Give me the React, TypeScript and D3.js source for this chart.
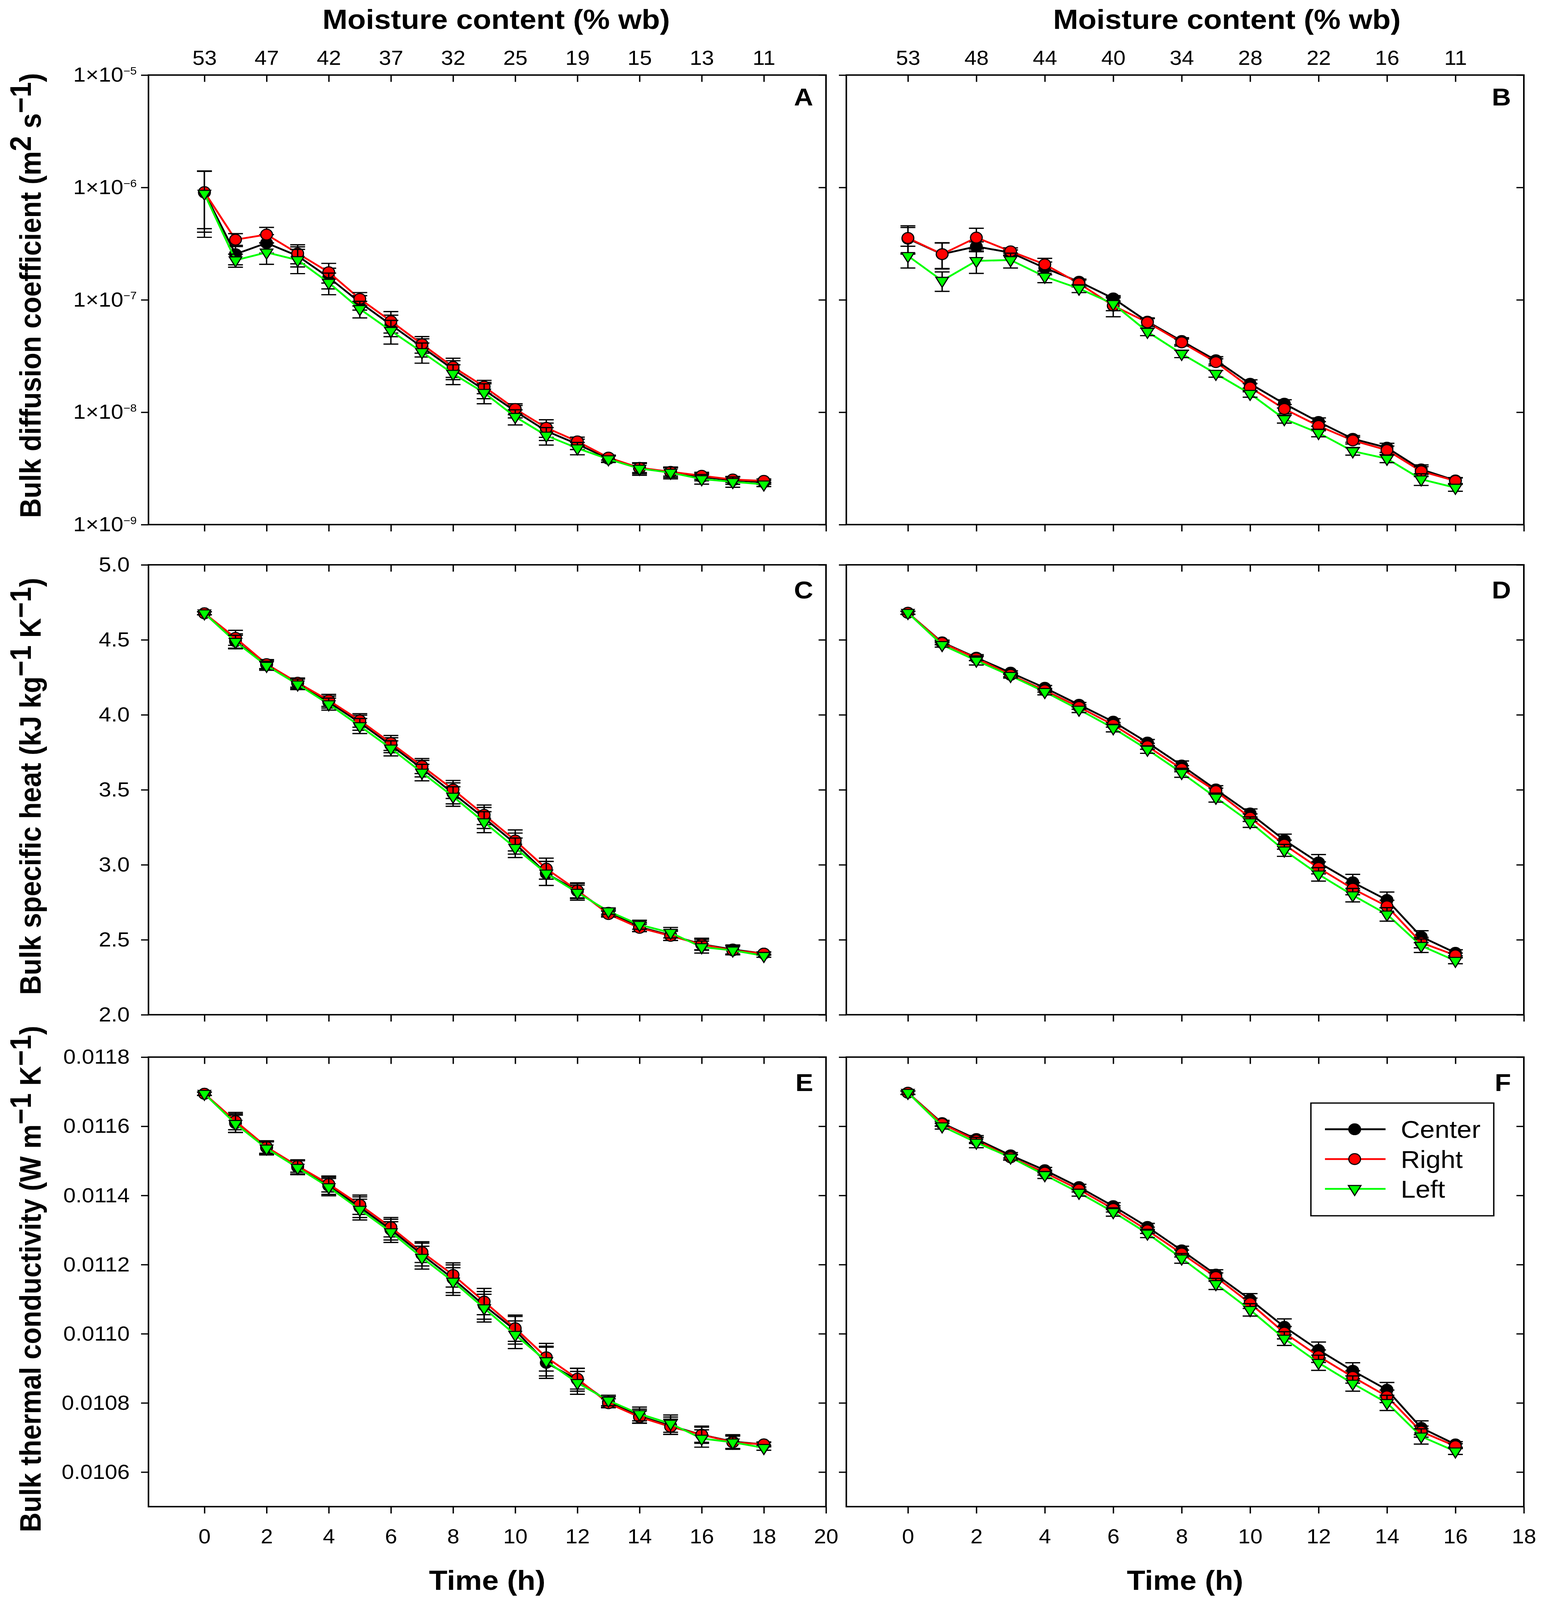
import React, { useRef, useEffect } from "react";
import * as d3 from "d3";

const W = 3949;
const H = 4456;
const FONT = "'Liberation Sans', Arial, Helvetica, sans-serif";

// time axes
const hoursL = [0, 1, 2, 3, 4, 5, 6, 7, 8, 9, 10, 11, 12, 13, 14, 15, 16, 17, 18];
const hoursR = [0, 1, 2, 3, 4, 5, 6, 7, 8, 9, 10, 11, 12, 13, 14, 15, 16];
const timeTicksL = [0, 2, 4, 6, 8, 10, 12, 14, 16, 18, 20];
const timeTicksR = [0, 2, 4, 6, 8, 10, 12, 14, 16, 18];

// moisture content (top axis)
const mcTicksL = [0, 2, 4, 6, 8, 10, 12, 14, 16, 18];
const mcLabelsL = ["53", "47", "42", "37", "32", "25", "19", "15", "13", "11"];
const mcTicksR = [0, 2, 4, 6, 8, 10, 12, 14, 16];
const mcLabelsR = ["53", "48", "44", "40", "34", "28", "22", "16", "11"];

// y ticks
const diffTicks = [1e-9, 1e-8, 1e-7, 1e-6, 1e-5];
const heatTicks = [2.0, 2.5, 3.0, 3.5, 4.0, 4.5, 5.0];
const condTicks = [0.0106, 0.0108, 0.011, 0.0112, 0.0114, 0.0116, 0.0118];

// A - bulk diffusion coefficient, left column
const diffCenterA = [9.0e-7, 2.55e-7, 3.2e-7, 2.46e-7, 1.58e-7, 9.5e-8, 6.0e-8, 3.8e-8, 2.41e-8, 1.58e-8, 1.02e-8, 6.8e-9, 5.2e-9, 3.85e-9, 3.18e-9, 2.92e-9, 2.65e-9, 2.48e-9, 2.38e-9];
const diffRightA = [9.1e-7, 3.43e-7, 3.81e-7, 2.59e-7, 1.76e-7, 1.02e-7, 6.46e-8, 4.03e-8, 2.53e-8, 1.69e-8, 1.07e-8, 7.27e-9, 5.5e-9, 3.95e-9, 3.2e-9, 2.95e-9, 2.72e-9, 2.52e-9, 2.45e-9];
const diffLeftA = [8.8e-7, 2.25e-7, 2.64e-7, 2.26e-7, 1.42e-7, 8.3e-8, 5.3e-8, 3.43e-8, 2.2e-8, 1.49e-8, 9.1e-9, 6.2e-9, 4.78e-9, 3.82e-9, 3.15e-9, 2.9e-9, 2.54e-9, 2.4e-9, 2.28e-9];
const diffCenterSdA = [5.0e-7, 5.0e-8, 6.0e-8, 5.0e-8, 3.3e-8, 1.4e-8, 1.3e-8, 7e-9, 4.6e-9, 2.6e-9, 1.3e-9, 1.2e-9, 5.5e-10, 2.5e-10, 3.5e-10, 3e-10, 2e-10, 2e-10, 1e-10];
const diffRightSdA = [4.8e-7, 4.5e-8, 6.0e-8, 5.0e-8, 3.5e-8, 1.4e-8, 1.4e-8, 6.8e-9, 4.9e-9, 2.3e-9, 1.2e-9, 1.3e-9, 5e-10, 2e-10, 3e-10, 2.5e-10, 2e-10, 1.5e-10, 1e-10];
const diffLeftSdA = [5.2e-7, 3e-8, 5.7e-8, 5.5e-8, 3.1e-8, 1.4e-8, 1.26e-8, 7e-9, 4.4e-9, 3e-9, 1.4e-9, 1.1e-9, 6e-10, 2.5e-10, 4e-10, 3.5e-10, 2.5e-10, 2.5e-10, 1e-10];

// B - bulk diffusion coefficient, right column
const diffCenterB = [3.5e-7, 2.55e-7, 2.98e-7, 2.63e-7, 1.92e-7, 1.45e-7, 1.03e-7, 6.4e-8, 4.3e-8, 2.9e-8, 1.79e-8, 1.19e-8, 8.2e-9, 5.8e-9, 4.84e-9, 3.1e-9, 2.47e-9];
const diffRightB = [3.55e-7, 2.55e-7, 3.58e-7, 2.7e-7, 2.07e-7, 1.4e-7, 8.87e-8, 6.3e-8, 4.18e-8, 2.79e-8, 1.66e-8, 1.07e-8, 7.55e-9, 5.61e-9, 4.6e-9, 2.98e-9, 2.45e-9];
const diffLeftB = [2.46e-7, 1.48e-7, 2.22e-7, 2.26e-7, 1.61e-7, 1.26e-7, 9.2e-8, 5.2e-8, 3.31e-8, 2.2e-8, 1.46e-8, 8.7e-9, 6.55e-9, 4.5e-9, 3.86e-9, 2.53e-9, 2.13e-9];
const diffCenterSdB = [9e-8, 6.5e-8, 3e-8, 1.5e-8, 2.5e-8, 8e-9, 6e-9, 5e-9, 3e-9, 2.2e-9, 1.5e-9, 1e-9, 7e-10, 4e-10, 4.5e-10, 3e-10, 1.5e-10];
const diffRightSdB = [1e-7, 6.7e-8, 7.5e-8, 2e-8, 2.7e-8, 1e-8, 1.8e-8, 5e-9, 3e-9, 2e-9, 1.4e-9, 1e-9, 7e-10, 4e-10, 4e-10, 3e-10, 1.5e-10];
const diffLeftSdB = [5.4e-8, 2.9e-8, 5e-8, 3.4e-8, 1.9e-8, 1e-8, 1.2e-8, 4e-9, 2.5e-9, 1.5e-9, 1e-9, 7e-10, 5e-10, 3.5e-10, 3e-10, 3e-10, 1.5e-10];

// C - bulk specific heat, left column
const heatCenterC = [4.677, 4.49, 4.335, 4.21, 4.085, 3.947, 3.797, 3.641, 3.476, 3.312, 3.141, 2.942, 2.825, 2.68, 2.585, 2.53, 2.47, 2.435, 2.408];
const heatRightC = [4.677, 4.513, 4.338, 4.214, 4.096, 3.962, 3.812, 3.658, 3.502, 3.333, 3.162, 2.974, 2.829, 2.671, 2.579, 2.526, 2.468, 2.429, 2.408];
const heatLeftC = [4.677, 4.487, 4.327, 4.203, 4.071, 3.925, 3.776, 3.615, 3.455, 3.284, 3.113, 2.942, 2.814, 2.69, 2.6, 2.547, 2.451, 2.429, 2.393];
const heatCenterSdC = [0.01, 0.05, 0.03, 0.035, 0.04, 0.05, 0.05, 0.055, 0.07, 0.07, 0.07, 0.08, 0.05, 0.02, 0.03, 0.035, 0.04, 0.03, 0.01];
const heatRightSdC = [0.01, 0.05, 0.03, 0.03, 0.04, 0.045, 0.05, 0.05, 0.06, 0.065, 0.07, 0.07, 0.05, 0.02, 0.025, 0.03, 0.035, 0.03, 0.01];
const heatLeftSdC = [0.01, 0.043, 0.03, 0.035, 0.04, 0.05, 0.05, 0.055, 0.065, 0.07, 0.065, 0.08, 0.05, 0.02, 0.03, 0.035, 0.04, 0.03, 0.01];

// D - bulk specific heat, right column
const heatCenterD = [4.68, 4.483, 4.381, 4.281, 4.18, 4.067, 3.954, 3.815, 3.662, 3.502, 3.342, 3.164, 3.015, 2.883, 2.765, 2.52, 2.413];
const heatRightD = [4.68, 4.479, 4.377, 4.266, 4.163, 4.052, 3.933, 3.79, 3.64, 3.491, 3.314, 3.134, 2.979, 2.84, 2.723, 2.481, 2.396];
const heatLeftD = [4.68, 4.466, 4.362, 4.26, 4.153, 4.035, 3.911, 3.768, 3.613, 3.448, 3.284, 3.096, 2.936, 2.797, 2.669, 2.46, 2.36];
const heatCenterSdD = [0.01, 0.015, 0.02, 0.012, 0.015, 0.015, 0.02, 0.02, 0.03, 0.025, 0.03, 0.04, 0.053, 0.053, 0.053, 0.04, 0.02];
const heatRightSdD = [0.01, 0.012, 0.015, 0.012, 0.012, 0.015, 0.015, 0.02, 0.02, 0.02, 0.025, 0.03, 0.04, 0.04, 0.04, 0.035, 0.015];
const heatLeftSdD = [0.01, 0.015, 0.03, 0.015, 0.02, 0.02, 0.025, 0.025, 0.03, 0.03, 0.035, 0.04, 0.045, 0.045, 0.045, 0.045, 0.02];

// E - bulk thermal conductivity, left column
const condCenterE = [0.011694, 0.011609, 0.011538, 0.011482, 0.011428, 0.011366, 0.011301, 0.011229, 0.011159, 0.011082, 0.01101, 0.010916, 0.010867, 0.010803, 0.010762, 0.010734, 0.010708, 0.010688, 0.01068];
const condRightE = [0.011694, 0.011615, 0.01154, 0.011485, 0.011433, 0.011373, 0.011308, 0.011236, 0.01117, 0.011093, 0.011016, 0.010932, 0.01087, 0.010799, 0.010759, 0.010731, 0.010708, 0.010686, 0.01068];
const condLeftE = [0.011694, 0.011607, 0.011536, 0.01148, 0.011424, 0.011359, 0.011294, 0.01122, 0.011151, 0.011074, 0.010997, 0.010921, 0.010858, 0.010807, 0.010768, 0.01074, 0.010697, 0.010686, 0.01067];
const condCenterSdE = [5e-6, 2.7e-5, 1.9e-5, 2e-5, 2.5e-5, 3e-5, 3e-5, 3.3e-5, 4e-5, 4e-5, 4e-5, 4.5e-5, 3.3e-5, 1.5e-5, 2e-5, 2.5e-5, 2.5e-5, 2e-5, 7e-6];
const condRightSdE = [5e-6, 2.5e-5, 1.8e-5, 1.8e-5, 2.3e-5, 2.8e-5, 2.8e-5, 3e-5, 3.5e-5, 3.8e-5, 3.8e-5, 4e-5, 3e-5, 1.3e-5, 1.8e-5, 2.2e-5, 2.2e-5, 1.8e-5, 6e-6];
const condLeftSdE = [5e-6, 2.5e-5, 1.9e-5, 2e-5, 2.5e-5, 3e-5, 3e-5, 3.3e-5, 4e-5, 4e-5, 4e-5, 4.3e-5, 3.3e-5, 1.5e-5, 2e-5, 2.5e-5, 2.5e-5, 2e-5, 7e-6];

// F - bulk thermal conductivity, right column
const condCenterF = [0.011697, 0.011609, 0.011563, 0.011516, 0.011473, 0.011424, 0.011369, 0.011309, 0.011241, 0.011171, 0.011099, 0.01102, 0.010953, 0.010893, 0.010838, 0.010728, 0.01068];
const condRightF = [0.011697, 0.011607, 0.011559, 0.01151, 0.011466, 0.011417, 0.011361, 0.011299, 0.011232, 0.011164, 0.011088, 0.011003, 0.010935, 0.010875, 0.010819, 0.010717, 0.010675];
const condLeftF = [0.011697, 0.0116, 0.011553, 0.01151, 0.011459, 0.011408, 0.011352, 0.01129, 0.011218, 0.011144, 0.011069, 0.010986, 0.010916, 0.010856, 0.0108, 0.010703, 0.01066];
const condCenterSdF = [5e-6, 8e-6, 1e-5, 8e-6, 8e-6, 8e-6, 1e-5, 1e-5, 1.2e-5, 1.4e-5, 1.7e-5, 2.3e-5, 2.3e-5, 2.3e-5, 2.1e-5, 2e-5, 8e-6];
const condRightSdF = [5e-6, 7e-6, 9e-6, 7e-6, 7e-6, 7e-6, 9e-6, 9e-6, 1e-5, 1.2e-5, 1.5e-5, 1.8e-5, 1.8e-5, 1.8e-5, 1.8e-5, 1.6e-5, 7e-6];
const condLeftSdF = [5e-6, 8e-6, 1.5e-5, 8e-6, 1e-5, 1e-5, 1.2e-5, 1.2e-5, 1.4e-5, 1.6e-5, 1.8e-5, 2e-5, 2.2e-5, 2.2e-5, 2.2e-5, 2.2e-5, 9e-6];

const seriesNames = ["Center", "Right", "Left"];
const seriesColors = ["#000000", "#ff0000", "#00ff00"];

type Sel = d3.Selection<any, any, any, any>;

const cols = [
  { x0: 380, x1: 2114, domain: [-1.8, 20], hours: hoursL, timeTicks: timeTicksL, mcTicks: mcTicksL, mcLabels: mcLabelsL, titleX: 1270 },
  { x0: 2166, x1: 3900, domain: [-1.8, 18], hours: hoursR, timeTicks: timeTicksR, mcTicks: mcTicksR, mcLabels: mcLabelsR, titleX: 3140 },
];
const rows = [
  { y0: 209, y1: 1461 },
  { y0: 1573, y1: 2826 },
  { y0: 2944, y1: 4196 },
];

const panels = [
  { row: 0, col: 0, letter: "A", values: [diffCenterA, diffRightA, diffLeftA], sds: [diffCenterSdA, diffRightSdA, diffLeftSdA] },
  { row: 0, col: 1, letter: "B", values: [diffCenterB, diffRightB, diffLeftB], sds: [diffCenterSdB, diffRightSdB, diffLeftSdB] },
  { row: 1, col: 0, letter: "C", values: [heatCenterC, heatRightC, heatLeftC], sds: [heatCenterSdC, heatRightSdC, heatLeftSdC] },
  { row: 1, col: 1, letter: "D", values: [heatCenterD, heatRightD, heatLeftD], sds: [heatCenterSdD, heatRightSdD, heatLeftSdD] },
  { row: 2, col: 0, letter: "E", values: [condCenterE, condRightE, condLeftE], sds: [condCenterSdE, condRightSdE, condLeftSdE] },
  { row: 2, col: 1, letter: "F", values: [condCenterF, condRightF, condLeftF], sds: [condCenterSdF, condRightSdF, condLeftSdF] },
];

function yScaleFor(row: number, y0: number, y1: number) {
  if (row === 0) return d3.scaleLog().domain([1e-9, 1e-5]).range([y1, y0]);
  if (row === 1) return d3.scaleLinear().domain([2.0, 5.0]).range([y1, y0]);
  return d3.scaleLinear().domain([0.0105, 0.0118]).range([y1, y0]);
}

function styleAxis(g: Sel, size = 56) {
  g.select(".domain").remove();
  g.selectAll(".tick line").attr("stroke", "#000").attr("stroke-width", 3.5);
  g.selectAll(".tick text").attr("font-size", size).attr("font-family", FONT).attr("fill", "#000");
}

function drawMarker(g: Sel, kind: number, cx: number, cy: number, color: string) {
  if (kind === 2) {
    g.append("path")
      .attr("d", d3.symbol().type(d3.symbolTriangle).size(450)())
      .attr("transform", `translate(${cx},${cy}) rotate(180)`)
      .attr("fill", color)
      .attr("stroke", "#000")
      .attr("stroke-width", 3);
  } else {
    g.append("circle")
      .attr("cx", cx)
      .attr("cy", cy)
      .attr("r", 15)
      .attr("fill", color)
      .attr("stroke", "#000")
      .attr("stroke-width", 3);
  }
}

function drawPanel(svg: Sel, p: (typeof panels)[number]) {
  const c = cols[p.col];
  const r = rows[p.row];
  const x = d3.scaleLinear().domain(c.domain).range([c.x0, c.x1]);
  const y: any = yScaleFor(p.row, r.y0, r.y1);
  const g = svg.append("g");
  const isLeft = p.col === 0;
  const isTop = p.row === 0;
  const isBottom = p.row === 2;

  // bottom axis (outward ticks)
  const bottom = g.append("g")
    .attr("transform", `translate(0,${r.y1})`)
    .call(d3.axisBottom(x).tickValues(c.timeTicks).tickSize(19).tickSizeOuter(0).tickPadding(43)
      .tickFormat((d: any) => (isBottom ? String(d) : "")));
  styleAxis(bottom);

  // top axis (inward ticks), moisture content labels on the top row
  const top = g.append("g")
    .attr("transform", `translate(0,${r.y0})`)
    .call(d3.axisTop(x).tickValues(c.mcTicks).tickSize(-19).tickSizeOuter(0).tickPadding(28)
      .tickFormat((_d: any, i: number) => (isTop ? c.mcLabels[i] : "")));
  styleAxis(top);

  // left axis (outward ticks)
  const tickVals = p.row === 0 ? diffTicks : p.row === 1 ? heatTicks : condTicks;
  const fmt = p.row === 1 ? d3.format(".1f") : d3.format(".4f");
  const left = g.append("g")
    .attr("transform", `translate(${c.x0},0)`)
    .call(d3.axisLeft(y).tickValues(tickVals).tickSize(19).tickSizeOuter(0).tickPadding(p.row === 0 ? 11 : 29)
      .tickFormat((d: any) => (isLeft && p.row !== 0 ? fmt(d) : "")));
  styleAxis(left, 57);
  if (isLeft && p.row === 0) {
    left.selectAll<SVGTextElement, number>(".tick text").each(function (d) {
      const t = d3.select(this);
      t.text(null);
      t.append("tspan").text("1×10");
      t.append("tspan").attr("dy", -20).attr("font-size", 30).text("−" + String(Math.round(-Math.log10(d))));
    });
  }

  // right axis (inward ticks)
  const right = g.append("g")
    .attr("transform", `translate(${c.x1},0)`)
    .call(d3.axisRight(y).tickValues(tickVals).tickSize(-19).tickSizeOuter(0).tickFormat(() => ""));
  styleAxis(right);

  // frame
  g.append("rect")
    .attr("x", c.x0).attr("y", r.y0)
    .attr("width", c.x1 - c.x0).attr("height", r.y1 - r.y0)
    .attr("fill", "none").attr("stroke", "#000").attr("stroke-width", 4);

  // series: line, error bars, symbols
  p.values.forEach((vals, si) => {
    const sd = p.sds[si];
    const color = seriesColors[si];
    const pts = vals.map((v, i) => [x(c.hours[i]), y(v)] as [number, number]);
    g.append("path")
      .attr("d", d3.line()(pts))
      .attr("fill", "none")
      .attr("stroke", color)
      .attr("stroke-width", 5)
      .attr("stroke-linejoin", "round");

    const eb = g.append("g").attr("stroke", "#000").attr("stroke-width", 3.5);
    vals.forEach((v, i) => {
      const cx = x(c.hours[i]);
      const yTop = y(v + sd[i]);
      const yBot = y(v - sd[i]);
      eb.append("line").attr("x1", cx).attr("x2", cx).attr("y1", yTop).attr("y2", yBot);
      eb.append("line").attr("x1", cx - 19).attr("x2", cx + 19).attr("y1", yTop).attr("y2", yTop);
      eb.append("line").attr("x1", cx - 19).attr("x2", cx + 19).attr("y1", yBot).attr("y2", yBot);
    });

    const mk = g.append("g");
    pts.forEach(([px, py]) => drawMarker(mk, si, px, py, color));
  });

  // panel letter
  g.append("text")
    .attr("x", c.x1 - 33)
    .attr("y", r.y0 + (p.row === 0 ? 85 : 94))
    .attr("text-anchor", "end")
    .attr("font-family", FONT)
    .attr("font-weight", "bold")
    .attr("font-size", 68)
    .text(p.letter);
}

function yTitle(svg: Sel, cy: number, parts: [string, boolean][]) {
  const t = svg.append("text")
    .attr("transform", `translate(104,${cy}) rotate(-90)`)
    .attr("text-anchor", "middle")
    .attr("font-family", FONT)
    .attr("font-weight", "bold")
    .attr("font-size", 76);
  let raised = false;
  parts.forEach(([s, sup]) => {
    const ts = t.append("tspan").text(s);
    if (sup && !raised) ts.attr("dy", -25);
    if (!sup && raised) ts.attr("dy", 25);
    raised = sup;
  });
}

const App: React.FC = () => {
  const svgRef = useRef<SVGSVGElement | null>(null);

  useEffect(() => {
    const svg = d3.select(svgRef.current);
    svg.selectAll("*").remove();

    svg.append("rect").attr("width", W).attr("height", H).attr("fill", "#fff");

    panels.forEach((p) => drawPanel(svg as any, p));

    // top titles
    cols.forEach((c) => {
      svg.append("text")
        .attr("x", c.titleX).attr("y", 81)
        .attr("text-anchor", "middle")
        .attr("font-family", FONT).attr("font-weight", "bold").attr("font-size", 77)
        .text("Moisture content (% wb)");
    });

    // bottom titles
    cols.forEach((c) => {
      svg.append("text")
        .attr("x", (c.x0 + c.x1) / 2).attr("y", 4428)
        .attr("text-anchor", "middle")
        .attr("font-family", FONT).attr("font-weight", "bold").attr("font-size", 77)
        .text("Time (h)");
    });

    // y titles
    yTitle(svg as any, 823, [["Bulk diffusion coefficient (m", false], ["2", true], [" s", false], ["−1", true], [")", false]]);
    yTitle(svg as any, 2190, [["Bulk specific heat (kJ kg", false], ["−1", true], [" K", false], ["−1", true], [")", false]]);
    yTitle(svg as any, 3562, [["Bulk thermal conductivity (W m", false], ["−1", true], [" K", false], ["−1", true], [")", false]]);

    // legend in panel F
    const lg = svg.append("g");
    lg.append("rect")
      .attr("x", 3355).attr("y", 3072).attr("width", 468).attr("height", 314)
      .attr("fill", "#fff").attr("stroke", "#000").attr("stroke-width", 3.5);
    const legendY = [3145, 3228, 3311];
    seriesNames.forEach((name, i) => {
      lg.append("line")
        .attr("x1", 3391).attr("x2", 3546).attr("y1", legendY[i]).attr("y2", legendY[i])
        .attr("stroke", seriesColors[i]).attr("stroke-width", 5);
      drawMarker(lg as any, i, 3467, legendY[i], seriesColors[i]);
      lg.append("text")
        .attr("x", 3585).attr("y", legendY[i]).attr("dy", "0.36em")
        .attr("font-family", FONT).attr("font-size", 68)
        .text(name);
    });
  }, []);

  // the whole figure is fitted into the visible window
  return (
    <svg
      ref={svgRef}
      viewBox={`0 0 ${W} ${H}`}
      preserveAspectRatio="none"
      style={{ position: "fixed", left: 0, top: 0, width: "100vw", height: "100vh", display: "block" }}
    />
  );
};

export default App;
